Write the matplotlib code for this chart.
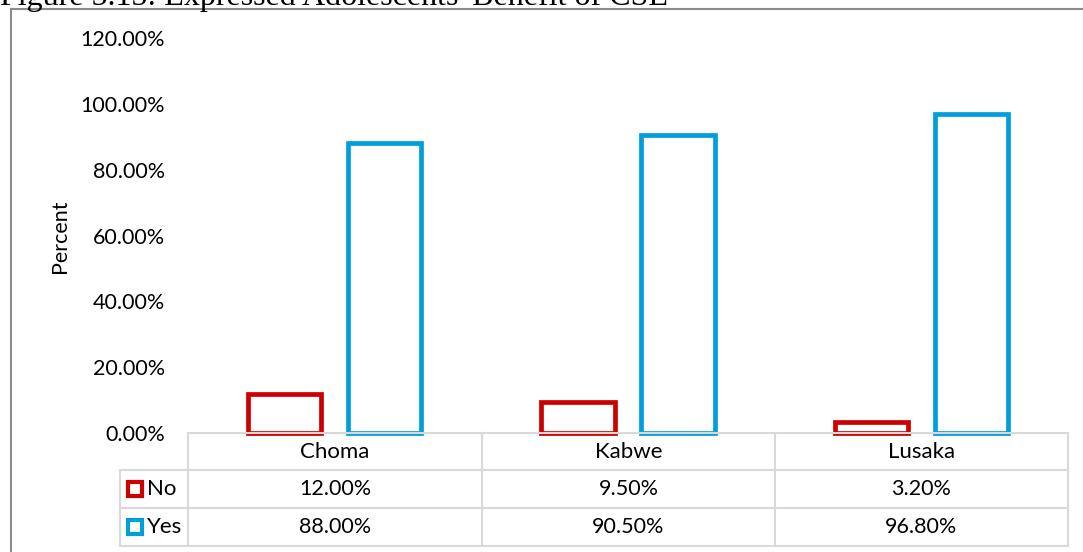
import matplotlib.pyplot as plt
from matplotlib.patches import Rectangle

regions = ['Choma', 'Kabwe', 'Lusaka']
no_vals = [12.0, 9.5, 3.2]
yes_vals = [88.0, 90.5, 96.8]
series_names = ['No', 'Yes']
yticks = [0, 20, 40, 60, 80, 100, 120]

red = '#CC0000'
blue = '#009FDB'
grid = '#D9D9D9'
W, H = 1083, 552

plt.rcParams['font.family'] = ['Lato', 'DejaVu Sans']

fig = plt.figure(figsize=(W / 100, H / 100), dpi=100)

def fx(x):
    return x / W

def fy(y):
    return 1 - y / H

# plot area in pixels: x 188..1068, y 38 (120%) .. 433 (0%)
ax = fig.add_axes([fx(188), fy(433), fx(1068) - fx(188), fy(38) - fy(433)])
x = range(len(regions))
ax.bar([i - 0.17 for i in x], no_vals, width=0.25, facecolor='none',
       edgecolor=red, linewidth=3.4, clip_on=False)
ax.bar([i + 0.17 for i in x], yes_vals, width=0.25, facecolor='none',
       edgecolor=blue, linewidth=3.4, clip_on=False)
ax.set_xlim(-0.5, len(regions) - 0.5)
ax.set_ylim(0, 120)
ax.set_yticks(yticks)
ax.set_yticklabels(['%.2f%%' % t for t in yticks], fontsize=15.5)
ax.tick_params(axis='y', length=0, pad=16.5)
ax.set_xticks([])
for s in ax.spines.values():
    s.set_visible(False)

fig.text(fx(60), fy(236), 'Percent', rotation=90, fontsize=15.5,
         ha='center', va='center')

# chart title (clipped at the top in the original)
fig.text(fx(0), fy(5), "Figure 5.15: Expressed Adolescents' Benefit of CSE",
         family='Liberation Serif', fontsize=23, ha='left', va='baseline')

# outer chart border
fig.add_artist(plt.Line2D([fx(11), fx(11)], [fy(9), fy(560)], color='#8C8C8C', lw=1.5))
fig.add_artist(plt.Line2D([fx(11), fx(1090)], [fy(9), fy(9)], color='#8C8C8C', lw=1.5))

# data table under the axis
col_edges = [188, 482, 775, 1068]
row_edges = [433, 470, 508, 546]
legend_left = 120

def hline(y, x0, x1):
    fig.add_artist(plt.Line2D([fx(x0), fx(x1)], [fy(y), fy(y)], color=grid, lw=1.5))

def vline(x, y0, y1):
    fig.add_artist(plt.Line2D([fx(x), fx(x)], [fy(y0), fy(y1)], color=grid, lw=1.5))

hline(row_edges[0], col_edges[0], col_edges[-1])
for y in row_edges[1:]:
    hline(y, legend_left, col_edges[-1])
for xe in col_edges:
    vline(xe, row_edges[0], row_edges[-1])
vline(legend_left, row_edges[1], row_edges[-1])

for j, name in enumerate(regions):
    cx = (col_edges[j] + col_edges[j + 1]) / 2
    cy = (row_edges[0] + row_edges[1]) / 2
    fig.text(fx(cx), fy(cy), name, fontsize=16, ha='center', va='center')

for r, (name, vals, col) in enumerate([(series_names[0], no_vals, red),
                                       (series_names[1], yes_vals, blue)]):
    cy = (row_edges[r + 1] + row_edges[r + 2]) / 2
    fig.add_artist(Rectangle((fx(128), fy(cy + 7)), fx(14), fy(0) - fy(14),
                             facecolor='white', edgecolor=col, lw=3.0))
    fig.text(fx(147), fy(cy), name, fontsize=16, ha='left', va='center')
    for j, v in enumerate(vals):
        cx = (col_edges[j] + col_edges[j + 1]) / 2
        fig.text(fx(cx), fy(cy), '%.2f%%' % v, fontsize=15.5, ha='center', va='center')

fig.savefig('out.png', dpi=100)
